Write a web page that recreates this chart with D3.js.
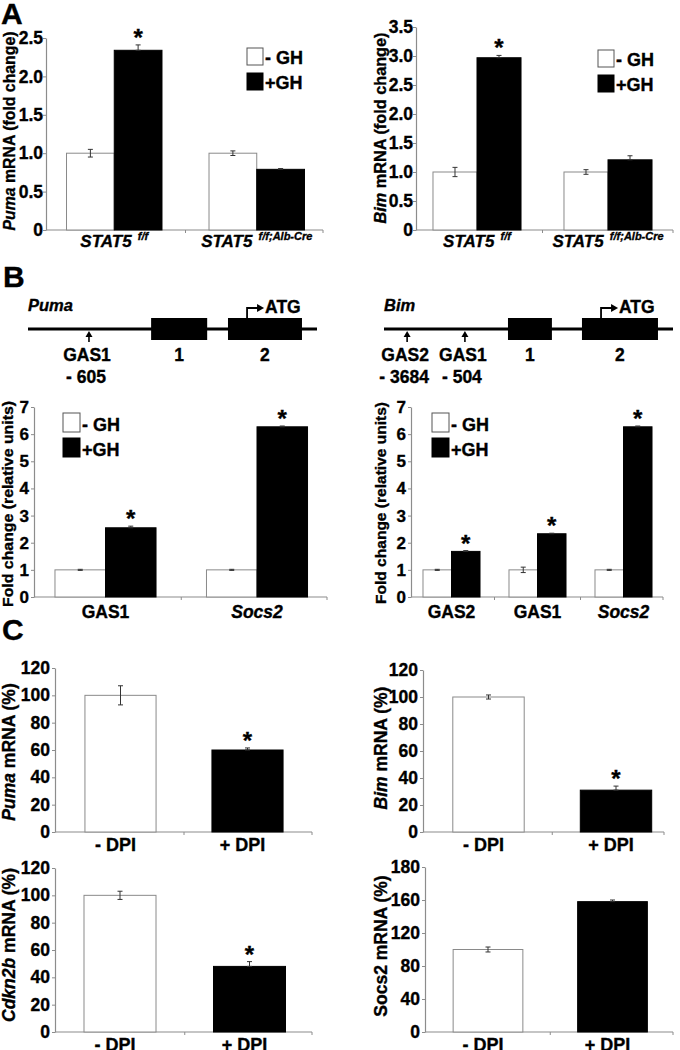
<!DOCTYPE html>
<html><head><meta charset="utf-8">
<script src="https://cdn.jsdelivr.net/npm/d3@7"></script>
<style>
body{margin:0;background:#fff;}
svg{display:block;font-family:"Liberation Sans",Arial,sans-serif;font-weight:bold;}
svg text{stroke:#000;stroke-width:0.35px;}
</style></head><body>
<svg id="fig" width="680" height="1050"></svg>
<script>
// ================= DATA =================
const seriesNames = ["- GH", "+GH"];

// Panel A
const aCategories = ["STAT5", "STAT5"];
const aCategorySup = ["f/f", "f/f;Alb-Cre"];
const pumaA_minus = [1.0, 1.0];
const pumaA_minusErr = [0.05, 0.03];
const pumaA_plus = [2.34, 0.79];
const pumaA_plusErr = [0.07, 0.01];
const pumaA_plusSig = [true, false];
const pumaA_ticks = [0, 0.5, 1.0, 1.5, 2.0, 2.5];
const pumaA_tickLabels = ["0", "0.5", "1.0", "1.5", "2.0", "2.5"];

const bimA_minus = [1.0, 1.0];
const bimA_minusErr = [0.08, 0.04];
const bimA_plus = [2.97, 1.21];
const bimA_plusErr = [0.04, 0.07];
const bimA_plusSig = [true, false];
const bimA_ticks = [0, 0.5, 1.0, 1.5, 2.0, 2.5, 3.0, 3.5];
const bimA_tickLabels = ["0", "0.5", "1.0", "1.5", "2.0", "2.5", "3.0", "3.5"];

// Panel B
const pumaB_categories = ["GAS1", "Socs2"];
const pumaB_italic = [false, true];
const pumaB_minus = [1, 1];
const pumaB_minusErr = [0.02, 0.02];
const pumaB_plus = [2.55, 6.27];
const pumaB_plusErr = [0.06, 0.03];
const pumaB_plusSig = [true, true];

const bimB_categories = ["GAS2", "GAS1", "Socs2"];
const bimB_italic = [false, false, true];
const bimB_minus = [1, 1, 1];
const bimB_minusErr = [0.02, 0.1, 0.02];
const bimB_plus = [1.68, 2.33, 6.27];
const bimB_plusErr = [0.03, 0.02, 0.03];
const bimB_plusSig = [true, true, true];

const b_ticks = [0, 1, 2, 3, 4, 5, 6, 7];
const b_tickLabels = ["0", "1", "2", "3", "4", "5", "6", "7"];

// Gene schematics (schematic units 0-100 along the promoter line)
const pumaExons = [[42.6, 62.0], [69.2, 94.8]];
const pumaExonLabels = ["1", "2"];
const pumaGasSites = [21.1];
const pumaGasNames = ["GAS1"];
const pumaGasPositions = ["- 605"];
const pumaATG = 75.8;

const bimExons = [[42.9, 58.1], [68.5, 94.8]];
const bimExonLabels = ["1", "2"];
const bimGasSites = [8.0, 28.0];
const bimGasNames = ["GAS2", "GAS1"];
const bimGasPositions = ["- 3684", "- 504"];
const bimATG = 75.1;

// Panel C
const dpiCategories = ["- DPI", "+ DPI"];
const pumaC_values = [100, 60];
const pumaC_err = [7, 1.5];
const pumaC_sig = [false, true];
const bimC_values = [100, 31];
const bimC_err = [1.5, 3];
const bimC_sig = [false, true];
const cdkn2bC_values = [100, 48];
const cdkn2bC_err = [3, 3.5];
const cdkn2bC_sig = [false, true];
const socs2C_values = [100, 158];
const socs2C_err = [3, 2];
const socs2C_sig = [false, false];
const c_ticks = [0, 20, 40, 60, 80, 100, 120];
const c_tickLabels = ["0", "20", "40", "60", "80", "100", "120"];
const socs2C_ticks = [0, 40, 80, 120, 160, 200];
const socs2C_tickLabels = ["0", "40", "80", "120", "160", "180"];

// ================= DRAWING =================
const svg = d3.select("#fig");
const AXIS = "#8c8c8c";

function panelLetter(txt, x, y) {
  svg.append("text").attr("x", x).attr("y", y).attr("font-size", 30).text(txt);
}

function yAxis(g, y, axisX, ticks, labels, fs, pad) {
  const ax = g.append("g").attr("transform", `translate(${axisX},0)`)
    .call(d3.axisLeft(y).tickValues(ticks).tickFormat((d, i) => labels[i]).tickSize(3).tickPadding(pad).tickSizeOuter(0));
  ax.select(".domain").attr("stroke", AXIS).attr("stroke-width", 1.2);
  ax.selectAll(".tick line").attr("stroke", AXIS);
  ax.selectAll(".tick text").attr("fill", "#000").attr("font-size", fs)
    .attr("font-family", '"Liberation Sans",Arial,sans-serif').attr("font-weight", "bold");
  ax.attr("font-family", null).attr("font-size", null);
}

function xAxisLine(g, y0, axisX, axisEnd, bounds) {
  g.append("line").attr("x1", axisX).attr("x2", axisEnd).attr("y1", y0).attr("y2", y0)
    .attr("stroke", AXIS).attr("stroke-width", 1.2);
  g.selectAll(null).data(bounds).join("line")
    .attr("x1", d => d).attr("x2", d => d).attr("y1", y0).attr("y2", y0 + 3)
    .attr("stroke", AXIS);
}

function errorBar(g, cx, yTop, yBot, color) {
  g.append("line").attr("x1", cx).attr("x2", cx).attr("y1", yTop).attr("y2", yBot).attr("stroke", color).attr("stroke-width", 1);
  [yTop, yBot].forEach(yy => g.append("line").attr("x1", cx - 2.5).attr("x2", cx + 2.5).attr("y1", yy).attr("y2", yy).attr("stroke", color).attr("stroke-width", 1));
}

function asterisk(g, cx, yTop) {
  g.append("text").attr("x", cx).attr("y", yTop + 1).attr("text-anchor", "middle").attr("font-size", 24).text("*");
}

function legend(g, x, y, boxW, boxH, gap, fs) {
  seriesNames.forEach((name, i) => {
    const yy = y + i * gap;
    g.append("rect").attr("x", x).attr("y", yy).attr("width", boxW).attr("height", boxH)
      .attr("fill", i === 0 ? "#fff" : "#000").attr("stroke", i === 0 ? "#555" : "#000").attr("stroke-width", 1);
    g.append("text").attr("x", x + boxW + 2).attr("y", yy + boxH - 1).attr("font-size", fs).text(name);
  });
}

function yTitle(g, x, cy, parts, fs, len) {
  const t = g.append("text").attr("transform", `translate(${x},${cy}) rotate(-90)`)
    .attr("text-anchor", "middle").attr("font-size", fs);
  if (len) t.attr("textLength", len).attr("lengthAdjust", "spacingAndGlyphs");
  parts.forEach(p => t.append("tspan").attr("font-style", p[1] ? "italic" : "normal").text(p[0]));
}

function groupedChart(cfg) {
  const g = svg.append("g");
  const y = d3.scaleLinear().domain(cfg.yDomain).range(cfg.yRange);
  const idx = d3.range(cfg.minus.length);
  const x0 = d3.scaleBand().domain(idx).range(cfg.xRange).paddingInner(cfg.pad).paddingOuter(cfg.pad / 2);
  const x1 = d3.scaleBand().domain([0, 1]).range([0, x0.bandwidth()]);
  const bounds = [];
  idx.forEach(i => { if (i > 0) bounds.push((x0(i - 1) + x0.bandwidth() + x0(i)) / 2); });
  bounds.push(cfg.axisEnd);
  xAxisLine(g, y(0), cfg.axisX, cfg.axisEnd, bounds);

  const series = [
    { v: cfg.minus, e: cfg.minusErr, fill: "#fff", stroke: "#8a8a8a", sig: idx.map(() => false) },
    { v: cfg.plus, e: cfg.plusErr, fill: "#000", stroke: "#000", sig: cfg.sig }
  ];
  series.forEach((s, si) => {
    g.selectAll(null).data(idx).join("rect")
      .attr("x", i => x0(i) + x1(si)).attr("width", x1.bandwidth())
      .attr("y", i => y(s.v[i])).attr("height", i => y(0) - y(s.v[i]))
      .attr("fill", s.fill).attr("stroke", s.stroke).attr("stroke-width", 1);
  });
  series.forEach((s, si) => {
    idx.forEach(i => {
      const cx = x0(i) + x1(si) + x1.bandwidth() / 2;
      errorBar(g, cx, y(s.v[i] + s.e[i]), si === 1 ? y(s.v[i]) : y(s.v[i] - s.e[i]), "#333");
      if (s.sig[i]) asterisk(g, cx, y(s.v[i] + s.e[i]));
    });
  });
  yAxis(g, y, cfg.axisX, cfg.ticks, cfg.tickLabels, cfg.tickFs, cfg.tickPad);

  // category labels
  idx.forEach(i => {
    const cx = x0(i) + x0.bandwidth() / 2;
    const t = g.append("text").attr("x", cx).attr("y", y(0) + cfg.catDy).attr("text-anchor", "middle").attr("font-size", cfg.catFs);
    t.append("tspan").attr("font-style", cfg.catItalic[i] ? "italic" : "normal").text(cfg.categories[i]);
    if (cfg.catSup) {
      t.append("tspan").attr("font-style", "italic").attr("font-size", 11).attr("dy", -7).text("\u00a0\u00a0" + cfg.catSup[i]);
    }
  });
  legend(g, cfg.legX, cfg.legY, cfg.legW, cfg.legH, cfg.legGap, cfg.legFs);
  yTitle(g, cfg.titleX, cfg.titleCy, cfg.title, cfg.titleFs, cfg.titleLen);
}

function singleChart(cfg) {
  const g = svg.append("g");
  const y = d3.scaleLinear().domain(cfg.yDomain).range(cfg.yRange);
  const x = d3.scaleBand().domain(dpiCategories).range(cfg.xRange).paddingInner(cfg.pad).paddingOuter(cfg.pad / 2);
  const bnd = (x(dpiCategories[0]) + x.bandwidth() + x(dpiCategories[1])) / 2;
  xAxisLine(g, y(0), cfg.axisX, cfg.axisEnd, [bnd, cfg.axisEnd]);
  g.selectAll(null).data(dpiCategories).join("rect")
    .attr("x", d => x(d)).attr("width", x.bandwidth())
    .attr("y", (d, i) => y(cfg.values[i])).attr("height", (d, i) => y(0) - y(cfg.values[i]))
    .attr("fill", (d, i) => i === 0 ? "#fff" : "#000")
    .attr("stroke", (d, i) => i === 0 ? "#8a8a8a" : "#000");
  dpiCategories.forEach((d, i) => {
    const cx = x(d) + x.bandwidth() / 2;
    errorBar(g, cx, y(cfg.values[i] + cfg.err[i]), i === 1 ? y(cfg.values[i]) : y(cfg.values[i] - cfg.err[i]), "#333");
    if (cfg.sig[i]) asterisk(g, cx, y(cfg.values[i] + cfg.err[i]));
    g.append("text").attr("x", cx - 5).attr("y", y(0) + 19).attr("text-anchor", "middle").attr("font-size", 18).text(d);
  });
  yAxis(g, y, cfg.axisX, cfg.ticks, cfg.tickLabels, 17.5, 2);
  yTitle(g, cfg.titleX, cfg.titleCy, cfg.title, 17.5, null);
}

function gene(cfg) {
  const g = svg.append("g");
  const s = d3.scaleLinear().domain([0, 100]).range(cfg.range);
  const lineY = 329;
  g.append("line").attr("x1", s(0)).attr("x2", s(100)).attr("y1", lineY).attr("y2", lineY).attr("stroke", "#000").attr("stroke-width", 3);
  g.selectAll(null).data(cfg.exons).join("rect")
    .attr("x", d => s(d[0])).attr("width", d => s(d[1]) - s(d[0]))
    .attr("y", lineY - 11).attr("height", 22).attr("fill", "#000");
  cfg.exons.forEach((d, i) => g.append("text").attr("x", s((d[0] + d[1]) / 2)).attr("y", 361)
    .attr("text-anchor", "middle").attr("font-size", 17.5).text(cfg.exonLabels[i]));
  cfg.sites.forEach((p, i) => {
    const xx = s(p);
    g.append("line").attr("x1", xx).attr("x2", xx).attr("y1", lineY + 13).attr("y2", lineY + 6).attr("stroke", "#000").attr("stroke-width", 1.6);
    g.append("path").attr("d", `M${xx - 3.5},${lineY + 8} L${xx + 3.5},${lineY + 8} L${xx},${lineY + 2} Z`).attr("fill", "#000");
    g.append("text").attr("x", xx - 2).attr("y", 361).attr("text-anchor", "middle").attr("font-size", 17.5).text(cfg.names[i]);
    g.append("text").attr("x", xx - 3).attr("y", 383).attr("text-anchor", "middle").attr("font-size", 17.5).text(cfg.positions[i]);
  });
  const ax = s(cfg.atg);
  g.append("path").attr("d", `M${ax},${lineY - 11} V${lineY - 21} H${ax + 11}`).attr("fill", "none").attr("stroke", "#000").attr("stroke-width", 1.8);
  g.append("path").attr("d", `M${ax + 10},${lineY - 25} L${ax + 17},${lineY - 21} L${ax + 10},${lineY - 17} Z`).attr("fill", "#000");
  g.append("text").attr("x", ax + 18).attr("y", lineY - 16).attr("font-size", 17.5).text("ATG");
  g.append("text").attr("x", s(0)).attr("y", 311).attr("font-size", 16.5).attr("font-style", "italic").text(cfg.name);
}

// ---- Panel A ----
panelLetter("A", 1, 24);
groupedChart({
  minus: pumaA_minus, minusErr: pumaA_minusErr, plus: pumaA_plus, plusErr: pumaA_plusErr, sig: pumaA_plusSig,
  categories: aCategories, catItalic: [true, true], catSup: aCategorySup, catFs: 17, catDy: 17,
  yDomain: [0, 2.5], yRange: [230, 38], xRange: [43, 328], pad: 0.33, axisX: 46, axisEnd: 323,
  ticks: pumaA_ticks, tickLabels: pumaA_tickLabels, tickFs: 17.5, tickPad: 0,
  legX: 247, legY: 48, legW: 16, legH: 17, legGap: 25, legFs: 18,
  title: [["Puma", true], [" mRNA (fold change)", false]], titleX: 15, titleCy: 131, titleFs: 16, titleLen: 199
});
groupedChart({
  minus: bimA_minus, minusErr: bimA_minusErr, plus: bimA_plus, plusErr: bimA_plusErr, sig: bimA_plusSig,
  categories: aCategories, catItalic: [true, true], catSup: aCategorySup, catFs: 17, catDy: 17,
  yDomain: [0, 3.5], yRange: [230, 27], xRange: [411.5, 673.5], pad: 0.328, axisX: 416, axisEnd: 673,
  ticks: bimA_ticks, tickLabels: bimA_tickLabels, tickFs: 17.5, tickPad: 0,
  legX: 598, legY: 50, legW: 16, legH: 17, legGap: 25, legFs: 18,
  title: [["Bim", true], [" mRNA (fold change)", false]], titleX: 386, titleCy: 128, titleFs: 16, titleLen: 191
});

// ---- Panel B ----
panelLetter("B", 3, 287);
gene({ range: [28, 317], exons: pumaExons, exonLabels: pumaExonLabels, sites: pumaGasSites, names: pumaGasNames, positions: pumaGasPositions, atg: pumaATG, name: "Puma" });
gene({ range: [384, 673], exons: bimExons, exonLabels: bimExonLabels, sites: bimGasSites, names: bimGasNames, positions: bimGasPositions, atg: bimATG, name: "Bim" });

groupedChart({
  minus: pumaB_minus, minusErr: pumaB_minusErr, plus: pumaB_plus, plusErr: pumaB_plusErr, sig: pumaB_plusSig,
  categories: pumaB_categories, catItalic: pumaB_italic, catSup: null, catFs: 17.5, catDy: 21,
  yDomain: [0, 7], yRange: [597, 407], xRange: [29.75, 332.75], pad: 0.333, axisX: 34, axisEnd: 327,
  ticks: b_ticks, tickLabels: b_tickLabels, tickFs: 17, tickPad: 2,
  legX: 63, legY: 413, legW: 17, legH: 19, legGap: 25, legFs: 18,
  title: [["Fold change (relative units)", false]], titleX: 13, titleCy: 504, titleFs: 15.5, titleLen: 206
});
groupedChart({
  minus: bimB_minus, minusErr: bimB_minusErr, plus: bimB_plus, plusErr: bimB_plusErr, sig: bimB_plusSig,
  categories: bimB_categories, catItalic: bimB_italic, catSup: null, catFs: 17.5, catDy: 21,
  yDomain: [0, 7], yRange: [597, 407], xRange: [408.5, 666.5], pad: 0.337, axisX: 411, axisEnd: 663,
  ticks: b_ticks, tickLabels: b_tickLabels, tickFs: 17, tickPad: 2,
  legX: 432, legY: 413, legW: 17, legH: 19, legGap: 25, legFs: 18,
  title: [["Fold change (relative units)", false]], titleX: 386, titleCy: 503, titleFs: 15.5, titleLen: 202
});

// ---- Panel C ----
panelLetter("C", 2, 640);
singleChart({ values: pumaC_values, err: pumaC_err, sig: pumaC_sig, yDomain: [0, 120], yRange: [832, 668],
  xRange: [57, 311], pad: 0.44, axisX: 55, axisEnd: 312, ticks: c_ticks, tickLabels: c_tickLabels,
  title: [["Puma", true], [" mRNA (%)", false]], titleX: 15, titleCy: 752 });
singleChart({ values: bimC_values, err: bimC_err, sig: bimC_sig, yDomain: [0, 120], yRange: [832, 670],
  xRange: [424.75, 679.75], pad: 0.44, axisX: 423, axisEnd: 664, ticks: c_ticks, tickLabels: c_tickLabels,
  title: [["Bim", true], [" mRNA (%)", false]], titleX: 387, titleCy: 748 });
singleChart({ values: cdkn2bC_values, err: cdkn2bC_err, sig: cdkn2bC_sig, yDomain: [0, 120], yRange: [1032, 868],
  xRange: [55.25, 314.25], pad: 0.444, axisX: 55, axisEnd: 312, ticks: c_ticks, tickLabels: c_tickLabels,
  title: [["Cdkn2b", true], [" mRNA (%)", false]], titleX: 15, titleCy: 945 });
singleChart({ values: socs2C_values, err: socs2C_err, sig: socs2C_sig, yDomain: [0, 200], yRange: [1032, 867],
  xRange: [425.75, 674.75], pad: 0.44, axisX: 425, axisEnd: 673, ticks: socs2C_ticks, tickLabels: socs2C_tickLabels,
  title: [["Socs2 mRNA (%)", false]], titleX: 387, titleCy: 946 });
</script>
</body></html>
